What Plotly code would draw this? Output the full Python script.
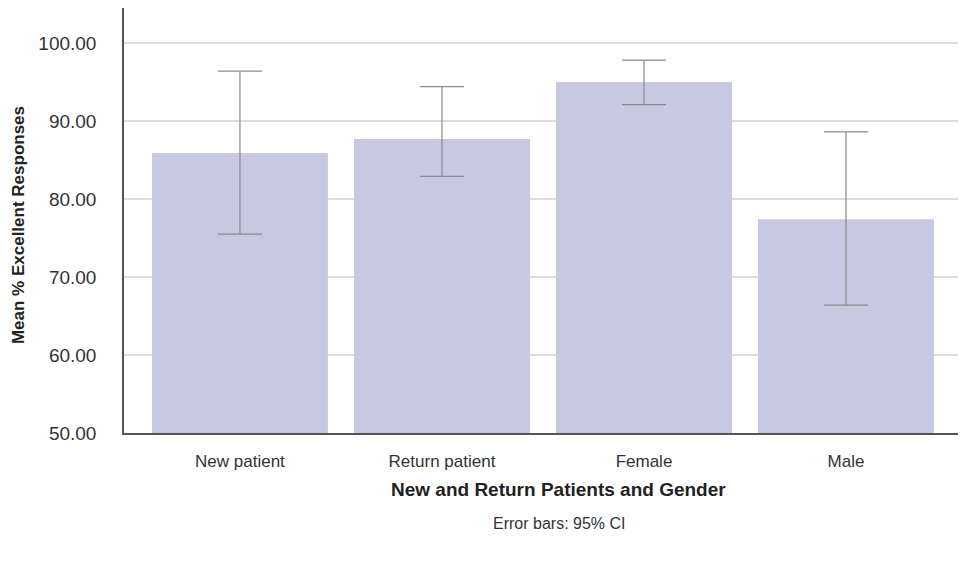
import plotly.graph_objects as go

categories = ["New patient", "Return patient", "Female", "Male"]
means = [85.9, 87.7, 95.0, 77.4]
ci_upper = [96.4, 94.4, 97.8, 88.6]
ci_lower = [75.5, 82.9, 92.1, 66.4]

err_plus = [u - m for u, m in zip(ci_upper, means)]
err_minus = [m - l for m, l in zip(means, ci_lower)]

fig = go.Figure()
fig.add_trace(go.Bar(
    x=categories, y=means,
    marker=dict(color="#c7c9e3", line=dict(width=0)),
    error_y=dict(type="data", symmetric=False, array=err_plus, arrayminus=err_minus,
                 color="#8a8a8a", thickness=1.2, width=22),
))

# page body adds an 8px offset, so margins are shifted to compensate
fig.update_layout(
    width=958, height=564,
    margin=dict(l=116, r=0, t=0, b=139),
    paper_bgcolor="white", plot_bgcolor="white",
    showlegend=False, bargap=0.129,
    font=dict(family="Liberation Sans Narrow, Liberation Sans, Arial", color="#333"),
)
fig.update_xaxes(
    range=[-0.574, 3.594], showgrid=False, showline=True, linecolor="#555", linewidth=1.5,
    ticks="", tickfont=dict(size=17, color="#333"), ticklabelstandoff=12,
)
fig.update_yaxes(
    range=[50, 104.49], tickvals=[50, 60, 70, 80, 90, 100], tickformat=".2f",
    showgrid=True, gridcolor="#dcdcdc", gridwidth=1.5, zeroline=False,
    showline=True, linecolor="#555", linewidth=1.5,
    ticks="", ticklabelstandoff=22,
    tickfont=dict(family="Liberation Sans, Arial", size=19, color="#333"),
)
fig.add_annotation(
    text="<b>Mean % Excellent Responses</b>", textangle=-90,
    xref="paper", yref="paper", x=-0.1255, y=0.49, xanchor="center", yanchor="middle",
    showarrow=False, font=dict(size=17, color="#222"),
)
fig.add_annotation(
    text="<b>New and Return Patients and Gender</b>",
    xref="paper", yref="paper", x=0.5166, y=-0.134, xanchor="center", yanchor="middle",
    showarrow=False, font=dict(size=19, color="#222"),
)
fig.add_annotation(
    text="Error bars: 95% CI",
    xref="paper", yref="paper", x=0.5166, y=-0.212, xanchor="center", yanchor="middle",
    showarrow=False, font=dict(size=16, color="#333"),
)

fig.write_html("out.html")
